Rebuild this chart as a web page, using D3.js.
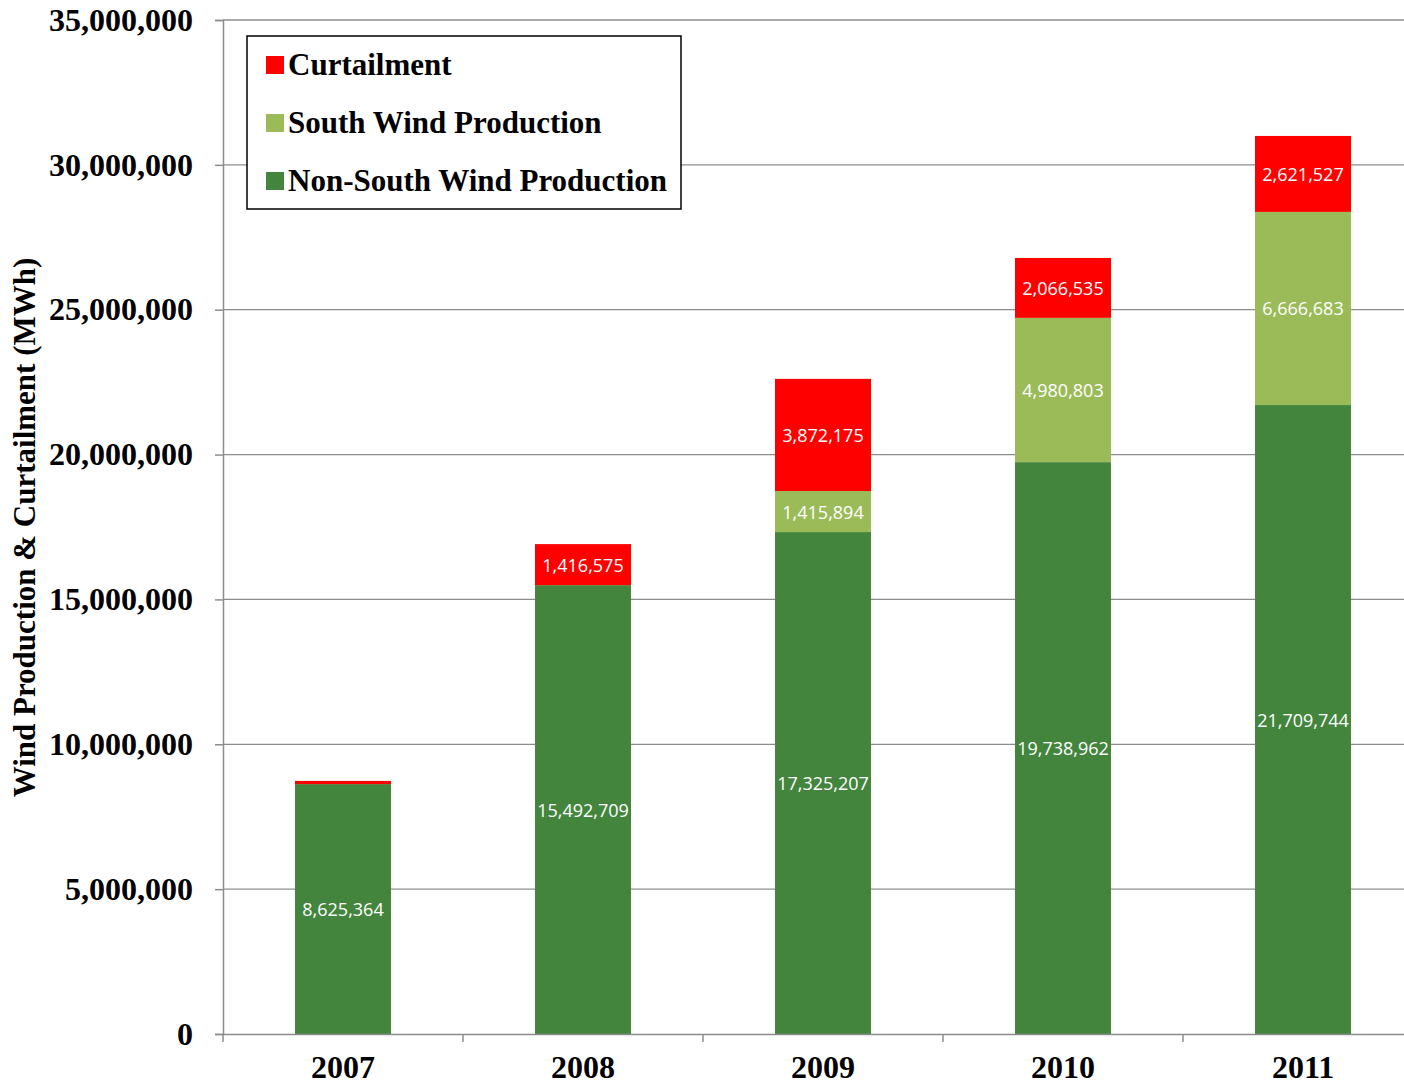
<!DOCTYPE html>
<html lang="en">
<head>
<meta charset="UTF-8">
<title>Wind Production & Curtailment</title>
<script src="https://d3js.org/d3.v7.min.js"></script>
<style>
  body { margin: 0; background: #fff; overflow: hidden; }
  svg { display: block; }
  .tick-lbl { font-family: "Liberation Serif", "Times New Roman", serif; font-weight: bold; font-size: 32px; fill: #000; }
  .title-lbl { font-family: "Liberation Serif", "Times New Roman", serif; font-weight: bold; font-size: 31px; fill: #000; }
  .data-lbl { font-family: "Open Sans", "Noto Sans", sans-serif; font-size: 18px; fill: #fff; }
</style>
</head>
<body>
<div id="chart"></div>
<script>
// data
const years = ["2007", "2008", "2009", "2010", "2011"];
const nonSouth = [8625364, 15492709, 17325207, 19738962, 21709744];
const south = [0, 0, 1415894, 4980803, 6666683];
const curtailment = [110000, 1416575, 3872175, 2066535, 2621527];
const showLabel = [[true, false, false], [true, false, true], [true, true, true], [true, true, true], [true, true, true]];
const seriesNames = ["Non-South Wind Production", "South Wind Production", "Curtailment"];
const colors = ["#43853d", "#9bbb59", "#ff0000"];
const yTicks = [0, 5000000, 10000000, 15000000, 20000000, 25000000, 30000000, 35000000];

const width = 1404, height = 1085;
const plotLeft = 223, plotRight = 1423, plotTop = 20, plotBottom = 1034;

const svg = d3.select("#chart").append("svg")
  .attr("width", width).attr("height", height);

const x = d3.scaleBand().domain(years).range([plotLeft, plotRight])
  .paddingInner(0.6).paddingOuter(0.3);
const y = d3.scaleLinear().domain([0, 35000000]).range([plotBottom, plotTop]);

// gridlines
svg.append("g").selectAll("line")
  .data(yTicks.slice(1))
  .join("line")
  .attr("x1", plotLeft).attr("x2", plotRight)
  .attr("y1", d => y(d)).attr("y2", d => y(d))
  .attr("stroke", "#8c8c8c").attr("stroke-width", 1.3);

// stacked bars
const rows = years.map((yr, i) => ({ year: yr, i, v: [nonSouth[i], south[i], curtailment[i]] }));
const stack = d3.stack().keys([0, 1, 2]).value((d, k) => d.v[k]);
const layers = stack(rows);

layers.forEach((layer, k) => {
  const g = svg.append("g");
  g.selectAll("rect")
    .data(layer.filter(d => d[1] > d[0]))
    .join("rect")
    .attr("x", d => x(d.data.year))
    .attr("width", x.bandwidth())
    .attr("y", d => y(d[1]))
    .attr("height", d => y(d[0]) - y(d[1]))
    .attr("fill", colors[k]);
  g.selectAll("text")
    .data(layer.filter(d => d[1] > d[0] && showLabel[d.data.i][k]))
    .join("text")
    .attr("class", "data-lbl")
    .attr("x", d => x(d.data.year) + x.bandwidth() / 2)
    .attr("y", d => (y(d[0]) + y(d[1])) / 2)
    .attr("text-anchor", "middle")
    .attr("dominant-baseline", "central")
    .text(d => d3.format(",")(d.data.v[k]));
});

// y axis
const yAxis = svg.append("g").attr("transform", `translate(${plotLeft},0)`)
  .call(d3.axisLeft(y).tickValues(yTicks).tickSize(8).tickPadding(22)
    .tickFormat(d3.format(",")));
yAxis.select(".domain").attr("stroke", "#8c8c8c").attr("stroke-width", 1.5);
yAxis.selectAll(".tick line").attr("stroke", "#8c8c8c").attr("stroke-width", 1.5);
yAxis.selectAll(".tick text").attr("class", "tick-lbl").attr("fill", "#000");

// x axis
const xAxis = svg.append("g").attr("transform", `translate(0,${plotBottom})`)
  .call(d3.axisBottom(x).tickSize(0).tickPadding(21));
xAxis.select(".domain").attr("stroke", "#8c8c8c").attr("stroke-width", 1.5);
xAxis.selectAll(".tick text").attr("class", "tick-lbl").attr("fill", "#000");
svg.append("g").selectAll("line")
  .data(d3.range(years.length + 1))
  .join("line")
  .attr("x1", i => plotLeft + i * x.step()).attr("x2", i => plotLeft + i * x.step())
  .attr("y1", plotBottom).attr("y2", plotBottom + 8)
  .attr("stroke", "#8c8c8c").attr("stroke-width", 1.5);

// y axis title
svg.append("text")
  .attr("class", "title-lbl")
  .attr("transform", `translate(35,${(258 + 797) / 2}) rotate(-90)`)
  .attr("text-anchor", "middle")
  .text("Wind Production & Curtailment (MWh)");

// legend
const legend = svg.append("g").attr("transform", "translate(247,36)");
legend.append("rect").attr("width", 434).attr("height", 173)
  .attr("fill", "#fff").attr("stroke", "#000").attr("stroke-width", 1.5);
const legendItems = [2, 1, 0];
legend.selectAll("g.item")
  .data(legendItems)
  .join("g")
  .attr("class", "item")
  .attr("transform", (d, i) => `translate(19,${29 + i * 58})`)
  .each(function (k) {
    const g = d3.select(this);
    g.append("rect").attr("x", 0).attr("y", -9).attr("width", 18).attr("height", 18).attr("fill", colors[k]);
    g.append("text").attr("class", "title-lbl").attr("x", 22).attr("y", 10).text(seriesNames[k]);
  });
</script>
</body>
</html>
